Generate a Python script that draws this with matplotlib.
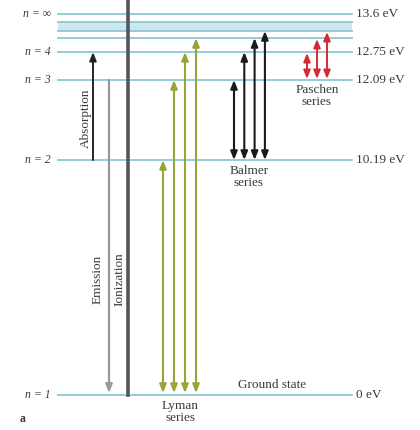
import matplotlib
matplotlib.use("Agg")
import matplotlib.pyplot as plt

# ---- data ----
level_labels = ["n = 1", "n = 2", "n = 3", "n = 4", "n = \u221e"]
level_energy_labels = ["0 eV", "10.19 eV", "12.09 eV", "12.75 eV", "13.6 eV"]
# diagram heights of levels n = 1..6 and n = infinity (schematic scale)
level_height = {1: 0.0, 2: 235.0, 3: 315.0, 4: 343.0, 5: 357.0, 6: 364.0, 'inf': 381.0}
band_top = 373.0
lyman_upper = [2, 3, 4, 5]
balmer_upper = [3, 4, 5, 6]
paschen_upper = [4, 5, 6]

plt.rcParams['font.family'] = ['Liberation Serif', 'DejaVu Serif']

fig = plt.figure(figsize=(4.2, 4.3), dpi=100)
ax = fig.add_axes([0, 0, 1, 1])
ax.set_xlim(0, 420)
ax.set_ylim(395 - 430, 395)
ax.axis('off')

txt = '#3a3a3a'
lvl_col = '#8cc7d6'
x0, x1 = 58, 352
fs = 9.5

# shaded band of high levels
ax.fill_between([x0, x1], level_height[6], band_top, color='#cfe7ed', lw=0, zorder=1)
for key in [1, 2, 3, 4, 5, 6, 'inf']:
    y = level_height[key]
    ax.plot([x0, x1], [y, y], color=lvl_col, lw=1.3, zorder=2)
ax.plot([x0, x1], [band_top, band_top], color=lvl_col, lw=1.3, zorder=2)

# left/right labels
for lab, en, key in zip(level_labels, level_energy_labels, [1, 2, 3, 4, 'inf']):
    y = level_height[key]
    ax.text(51, y, lab, ha='right', va='center', fontsize=fs - 1, color=txt, style='italic')
    ax.text(356, y, en, ha='left', va='center', fontsize=fs, color=txt)

ax.text(20, -24, 'a', ha='left', va='center', fontsize=fs - 1, color=txt, weight='bold')

def arrow(x, ya, yb, color, style, lw=1.4):
    ax.annotate('', xy=(x, yb), xytext=(x, ya),
                arrowprops=dict(arrowstyle=style, color=color, lw=lw,
                                shrinkA=0, shrinkB=0), zorder=4)

# absorption n=2 -> n=4
arrow(93, level_height[2], level_height[4], '#222222', '-|>,head_length=0.5,head_width=0.2')
ax.text(86, 277, 'Absorption', rotation=90, ha='center', va='center', fontsize=fs, color=txt)

# emission n=3 -> n=1
arrow(109, level_height[3], level_height[1] + 2, '#999999', '-|>,head_length=0.5,head_width=0.2', lw=1.6)
ax.text(98, 116, 'Emission', rotation=90, ha='center', va='center', fontsize=fs, color=txt)

# ionization
ax.plot([128, 128], [level_height[1], 400], color='#555555', lw=2.6, zorder=4)
ax.text(119, 116, 'Ionization', rotation=90, ha='center', va='center', fontsize=fs, color=txt)

both = '<|-|>,head_length=0.5,head_width=0.2'
# Lyman series
for i, n in enumerate(lyman_upper):
    arrow(163 + 11 * i, level_height[1] + 2, level_height[n], '#9aa33a', both, lw=1.5)
ax.text(180, -5, 'Lyman\nseries', ha='center', va='top', fontsize=fs, color=txt, linespacing=1.0)

# Balmer series
for i, n in enumerate(balmer_upper):
    arrow(234 + 10.3 * i, level_height[2], level_height[n], '#1a1a1a', both, lw=1.5)
ax.text(249, 230, 'Balmer\nseries', ha='center', va='top', fontsize=fs, color=txt, linespacing=1.0)

# Paschen series
for i, n in enumerate(paschen_upper):
    arrow(307 + 10 * i, level_height[3] + 1, level_height[n] - 1, '#d42a35', both, lw=1.4)
ax.text(317, 311, 'Paschen\nseries', ha='center', va='top', fontsize=fs, color=txt, linespacing=1.0)

ax.text(272, 4, 'Ground state', ha='center', va='bottom', fontsize=fs, color=txt)

fig.savefig('out.png', dpi=100)
